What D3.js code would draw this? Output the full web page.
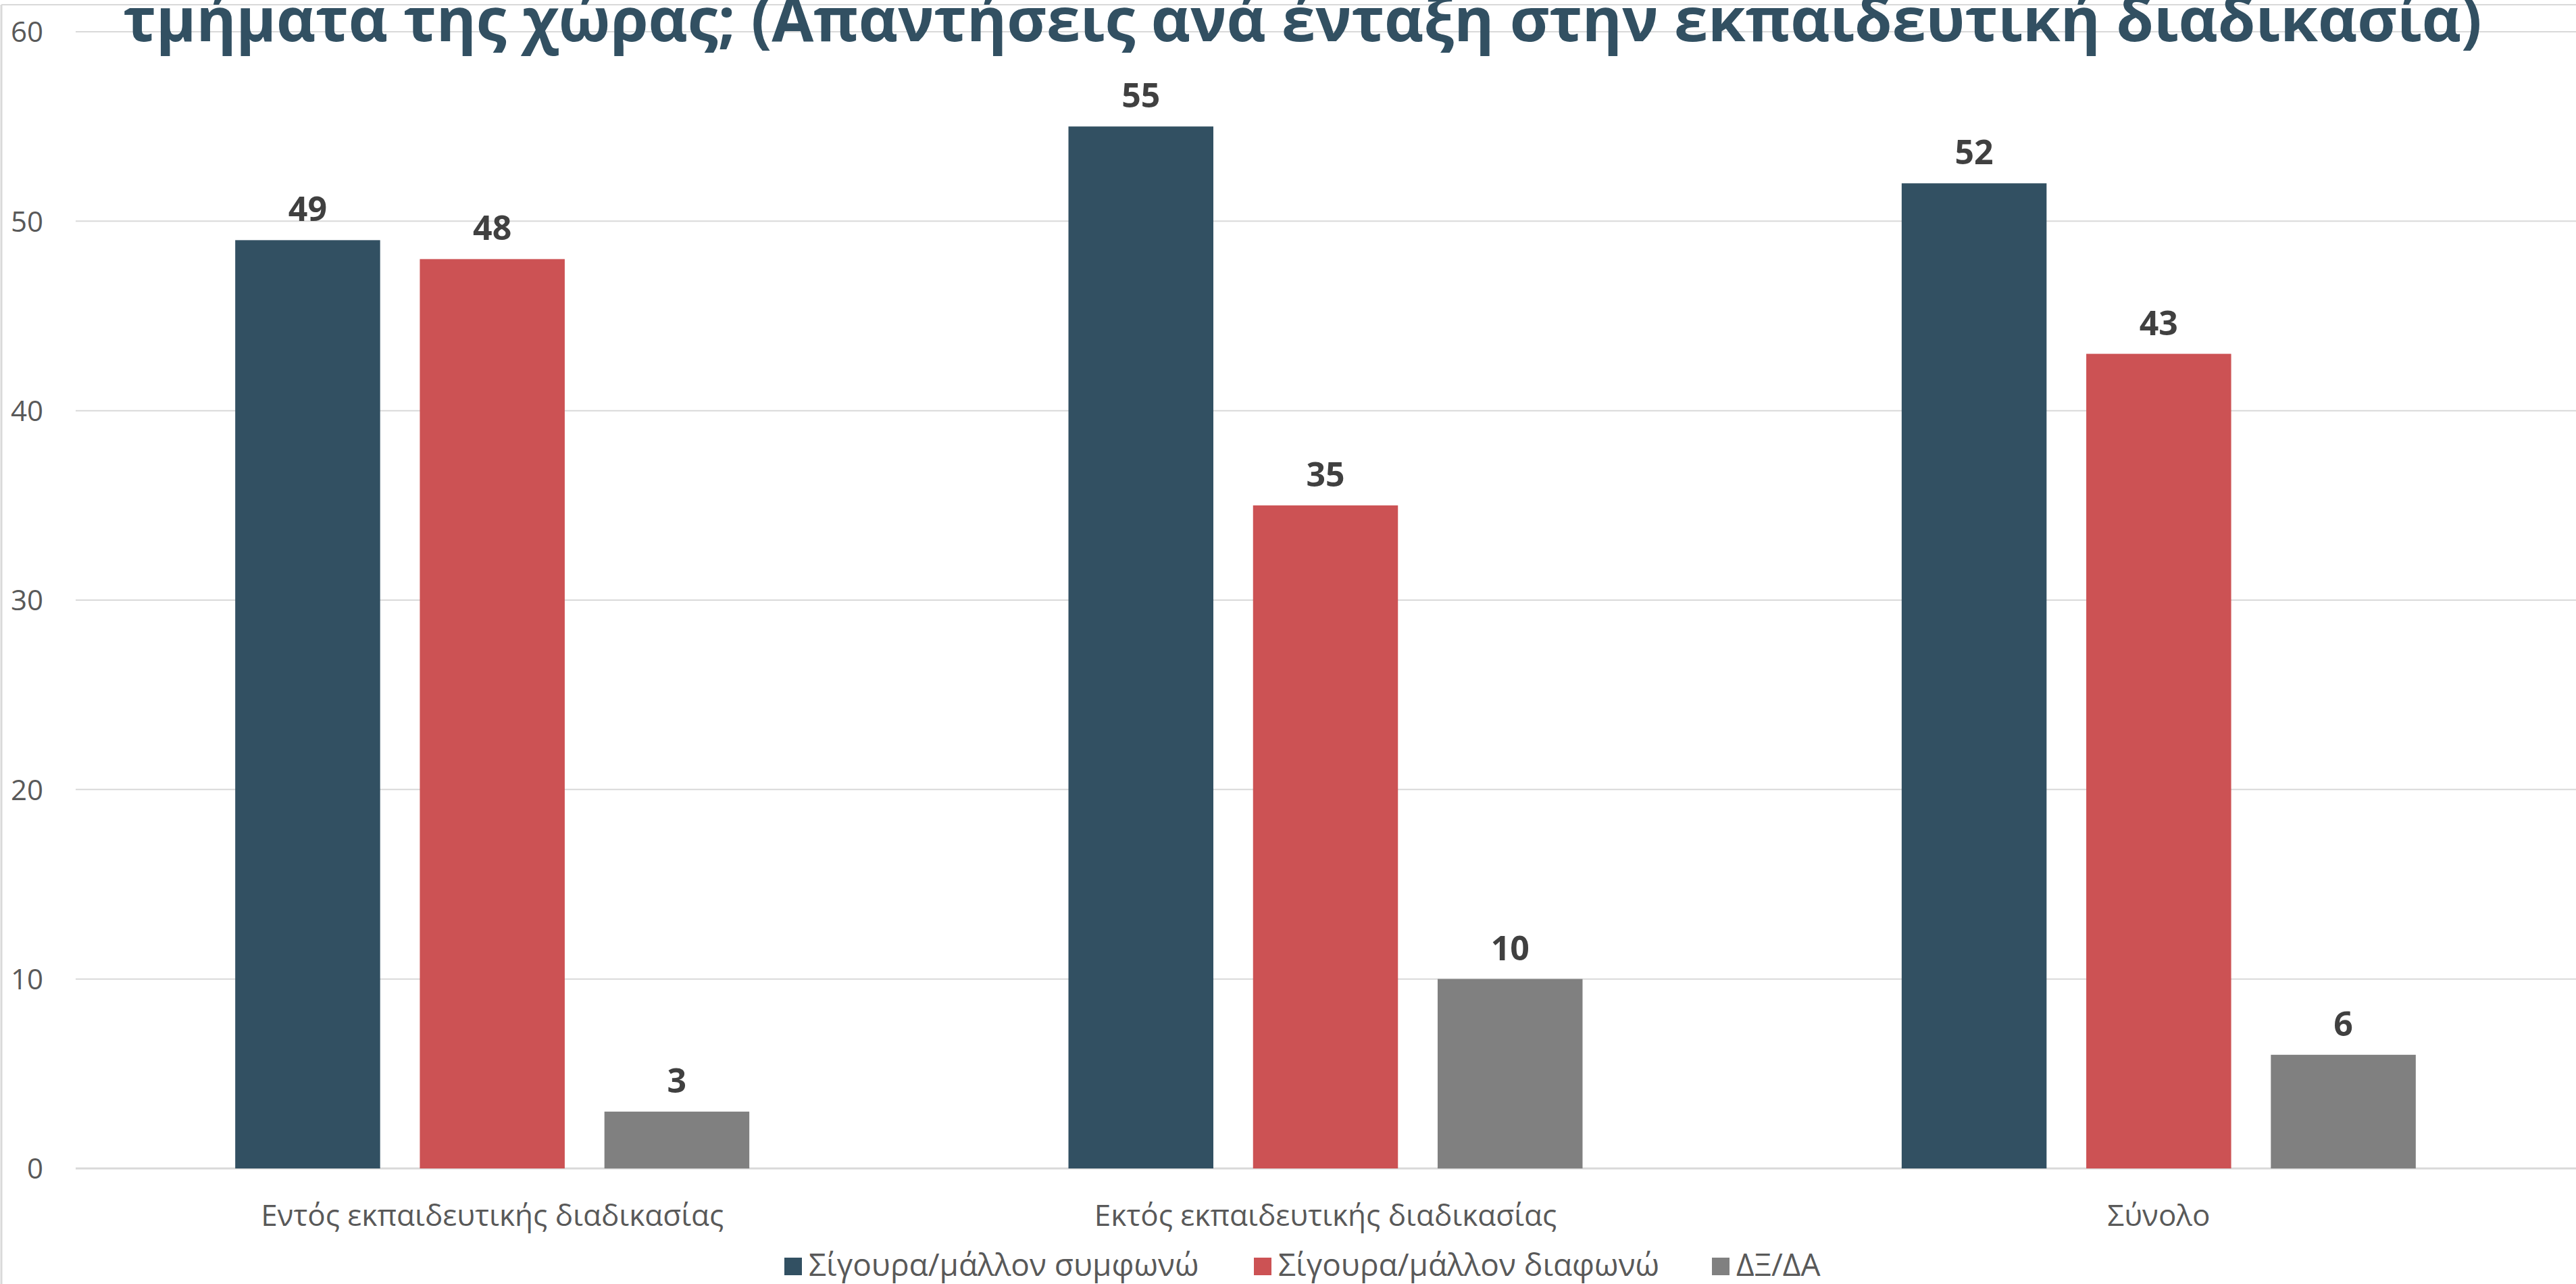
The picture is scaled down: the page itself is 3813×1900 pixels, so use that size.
<!DOCTYPE html>
<html>
<head>
<meta charset="utf-8">
<script src="https://cdn.jsdelivr.net/npm/d3@7"></script>
<style>
  html, body { margin: 0; padding: 0; background: #fff; overflow: hidden; }
  svg { display: block; font-family: "Open Sans", sans-serif; }
</style>
</head>
<body>
<script>
const categories = ["Εντός εκπαιδευτικής διαδικασίας", "Εκτός εκπαιδευτικής διαδικασίας", "Σύνολο"];
const seriesNames = ["Σίγουρα/μάλλον συμφωνώ", "Σίγουρα/μάλλον διαφωνώ", "ΔΞ/ΔΑ"];
const agreeValues = [49, 55, 52];
const disagreeValues = [48, 35, 43];
const dkValues = [3, 10, 6];
const yTicks = [0, 10, 20, 30, 40, 50, 60];
const titleText = "τμήματα της χώρας; (Απαντήσεις ανά ένταξη στην εκπαιδευτική διαδικασία)";

const colors = ["#325062", "#CC5254", "#808080"];
const seriesValues = [agreeValues, disagreeValues, dkValues];

const W = 3813, H = 1900;
const svg = d3.select("body").append("svg").attr("width", W).attr("height", H);

// chart border (top + left visible)
svg.append("line").attr("x1", 2).attr("x2", W).attr("y1", 7).attr("y2", 7)
  .attr("stroke", "#d9d9d9").attr("stroke-width", 2);
svg.append("line").attr("x1", 2).attr("x2", 2).attr("y1", 7).attr("y2", H)
  .attr("stroke", "#d9d9d9").attr("stroke-width", 3);

const x0 = d3.scaleBand().domain(categories).range([112, 3812]).paddingInner(0.383).paddingOuter(0.1915);
const x1 = d3.scaleBand().domain(seriesNames).range([0, x0.bandwidth()]).paddingInner(0.215).paddingOuter(0);
const y = d3.scaleLinear().domain([0, 60]).range([1729, 47]);

// gridlines
const grid = svg.append("g");
grid.selectAll("line").data(yTicks).join("line")
  .attr("x1", 112).attr("x2", W)
  .attr("y1", d => y(d)).attr("y2", d => y(d))
  .attr("stroke", "#d9d9d9")
  .attr("stroke-width", d => d === 0 ? 3 : 2);

// y axis labels
const yAxis = d3.axisLeft(y).tickValues(yTicks).tickSize(0).tickPadding(0);
const yg = svg.append("g").attr("transform", "translate(64,0)").call(yAxis);
yg.select(".domain").remove();
yg.selectAll("text").attr("font-family", "Open Sans").attr("font-size", 42)
  .attr("fill", "#595959").attr("dy", "0.35em");

// bars
const data = [];
categories.forEach((c, ci) => {
  seriesNames.forEach((s, si) => {
    data.push({ cat: c, ser: s, si, v: seriesValues[si][ci] });
  });
});

svg.append("g").selectAll("rect").data(data).join("rect")
  .attr("x", d => x0(d.cat) + x1(d.ser))
  .attr("y", d => y(d.v))
  .attr("width", x1.bandwidth())
  .attr("height", d => y(0) - y(d.v))
  .attr("fill", d => colors[d.si]);

// value labels
svg.append("g").selectAll("text").data(data).join("text")
  .attr("x", d => x0(d.cat) + x1(d.ser) + x1.bandwidth() / 2)
  .attr("y", d => y(d.v) - 28)
  .attr("text-anchor", "middle")
  .attr("font-family", "Open Sans").attr("font-weight", 700).attr("font-size", 50)
  .attr("fill", "#404040")
  .text(d => d.v);

// category labels
const xAxis = d3.axisBottom(x0).tickSize(0).tickPadding(0);
const xg = svg.append("g").attr("transform", "translate(0,1814)").call(xAxis);
xg.select(".domain").remove();
xg.selectAll("text").attr("font-family", "Open Sans").attr("font-size", 44)
  .attr("fill", "#595959").attr("dy", 0);

// title
svg.append("text")
  .attr("x", 1928).attr("y", 61)
  .attr("text-anchor", "middle")
  .attr("font-family", "Open Sans").attr("font-weight", 700).attr("font-size", 90)
  .attr("fill", "#325062")
  .text(titleText);

// legend
const legendX = [1161, 1856, 2534];
const lg = svg.append("g").selectAll("g").data(seriesNames).join("g")
  .attr("transform", (d, i) => `translate(${legendX[i]},0)`);
lg.append("rect").attr("x", 0).attr("y", 1861).attr("width", 26).attr("height", 26)
  .attr("fill", (d, i) => colors[i]);
lg.append("text").attr("x", 36).attr("y", 1888)
  .attr("font-family", "Open Sans").attr("font-size", 46).attr("fill", "#595959")
  .text(d => d);
</script>
</body>
</html>
